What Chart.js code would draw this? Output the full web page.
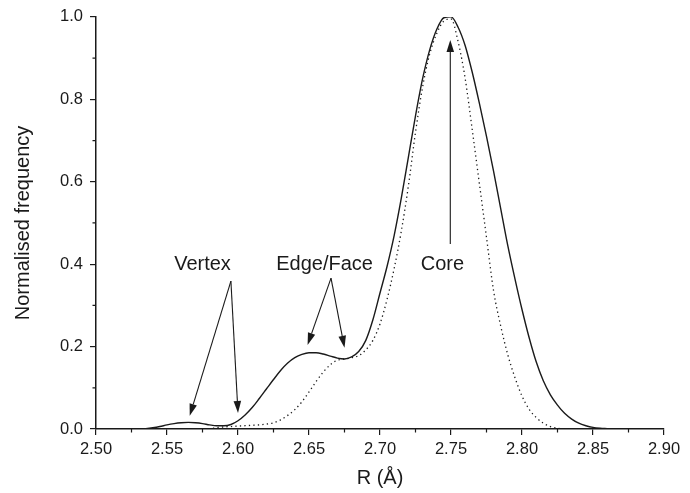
<!DOCTYPE html>
<html>

<head>
    <meta charset="UTF-8">
    <title>Normalised frequency vs R</title>
    <script src="https://cdn.jsdelivr.net/npm/chart.js"></script>
    <style>
        html, body { margin: 0; padding: 0; background: #fff; }
        #wrap { width: 690px; height: 493px; }
    </style>
</head>

<body>
    <div id="wrap">
        <canvas id="chart" width="690" height="493"></canvas>
    </div>
    <script>
        // distances R (Å) and the two normalised distributions
        var rValues = [2.50, 2.52, 2.53, 2.535, 2.54, 2.545, 2.55, 2.555, 2.56, 2.565, 2.57, 2.575, 2.58, 2.585, 2.59, 2.595,
            2.60, 2.605, 2.61, 2.615, 2.62, 2.625, 2.63, 2.635, 2.64, 2.645, 2.65, 2.655, 2.66, 2.665, 2.67, 2.675,
            2.68, 2.685, 2.69, 2.695, 2.70, 2.705, 2.71, 2.715, 2.72, 2.725, 2.73, 2.735, 2.74, 2.745, 2.75, 2.755,
            2.76, 2.765, 2.77, 2.775, 2.78, 2.785, 2.79, 2.795, 2.80, 2.805, 2.81, 2.815, 2.82, 2.825, 2.83, 2.835,
            2.84, 2.845, 2.85, 2.855, 2.86, 2.865, 2.87, 2.88, 2.90];

        // solid line: whole cluster
        var totalFreq = [0, 0, 0, 0.001, 0.003, 0.006, 0.010, 0.013, 0.015, 0.016, 0.015, 0.013, 0.010, 0.008, 0.008, 0.011,
            0.020, 0.034, 0.052, 0.074, 0.097, 0.120, 0.142, 0.160, 0.173, 0.181, 0.185, 0.185, 0.182, 0.177, 0.172, 0.170,
            0.175, 0.188, 0.215, 0.265, 0.330, 0.395, 0.470, 0.560, 0.660, 0.760, 0.850, 0.920, 0.970, 0.998, 1.000, 0.975,
            0.930, 0.865, 0.790, 0.710, 0.625, 0.535, 0.445, 0.365, 0.290, 0.222, 0.163, 0.117, 0.083, 0.058, 0.038, 0.024,
            0.014, 0.008, 0.004, 0.002, 0.001, 0, 0, 0, 0];

        // dotted line: core atoms
        var coreFreq = [0, 0, 0, 0, 0, 0, 0, 0, 0, 0, 0, 0, 0.001, 0.003, 0.005, 0.006,
            0.007, 0.008, 0.009, 0.010, 0.012, 0.015, 0.022, 0.033, 0.047, 0.066, 0.090, 0.115, 0.138, 0.156, 0.167, 0.170,
            0.173, 0.178, 0.192, 0.215, 0.255, 0.315, 0.390, 0.480, 0.590, 0.720, 0.830, 0.910, 0.960, 0.990, 0.995, 0.940,
            0.850, 0.725, 0.595, 0.465, 0.335, 0.250, 0.180, 0.125, 0.080, 0.048, 0.028, 0.014, 0.006, 0.002, 0, 0,
            0, 0, 0, 0, 0, 0, 0, 0, 0];

        var xTickStep = 0.05;
        var yTickStep = 0.2;

        // annotations, in data units
        var noteText = ['Vertex', 'Edge/Face', 'Core'];
        var noteR = [2.575, 2.661, 2.744];
        var noteY = [0.40, 0.40, 0.40];

        var arrowFromR = [2.595, 2.595, 2.6655, 2.6655, 2.7495];
        var arrowFromY = [0.359, 0.359, 0.366, 0.366, 0.449];
        var arrowToR = [2.566, 2.600, 2.649, 2.675, 2.7495];
        var arrowToY = [0.032, 0.039, 0.204, 0.197, 0.944];

        var FONT = 'Liberation Sans, Arial, Helvetica, sans-serif';
        var INK = '#1a1a1a';

        function toPoints(ys) {
            return rValues.map(function (r, i) { return { x: r, y: ys[i] }; });
        }

        // short minor ticks halfway between the labelled ones
        var minorTicks = {
            id: 'minorTicks',
            afterDraw: function (chart) {
                var ctx = chart.ctx, xs = chart.scales.x, ys = chart.scales.y;
                ctx.save();
                ctx.strokeStyle = INK;
                ctx.lineWidth = 1.2;
                ctx.beginPath();
                for (var v = xs.min + xTickStep / 2; v < xs.max; v += xTickStep) {
                    var px = xs.getPixelForValue(v);
                    ctx.moveTo(px, ys.bottom);
                    ctx.lineTo(px, ys.bottom + 3.5);
                }
                for (var w = ys.min + yTickStep / 2; w < ys.max; w += yTickStep) {
                    var py = ys.getPixelForValue(w);
                    ctx.moveTo(xs.left, py);
                    ctx.lineTo(xs.left - 3.5, py);
                }
                ctx.stroke();
                ctx.restore();
            }
        };

        var notes = {
            id: 'notes',
            afterDatasetsDraw: function (chart) {
                var ctx = chart.ctx, xs = chart.scales.x, ys = chart.scales.y;
                ctx.save();
                ctx.fillStyle = INK;
                ctx.strokeStyle = INK;
                ctx.font = '20px ' + FONT;
                ctx.textAlign = 'center';
                ctx.textBaseline = 'middle';
                for (var i = 0; i < noteText.length; i++) {
                    ctx.fillText(noteText[i], xs.getPixelForValue(noteR[i]), ys.getPixelForValue(noteY[i]));
                }
                ctx.lineWidth = 1.1;
                for (var j = 0; j < arrowFromR.length; j++) {
                    var x0 = xs.getPixelForValue(arrowFromR[j]), y0 = ys.getPixelForValue(arrowFromY[j]);
                    var x1 = xs.getPixelForValue(arrowToR[j]), y1 = ys.getPixelForValue(arrowToY[j]);
                    var a = Math.atan2(y1 - y0, x1 - x0);
                    var len = 12, half = 3.8;
                    var bx = x1 - len * Math.cos(a), by = y1 - len * Math.sin(a);
                    ctx.beginPath();
                    ctx.moveTo(x0, y0);
                    ctx.lineTo(bx, by);
                    ctx.stroke();
                    ctx.beginPath();
                    ctx.moveTo(x1, y1);
                    ctx.lineTo(bx + half * Math.sin(a), by - half * Math.cos(a));
                    ctx.lineTo(bx - half * Math.sin(a), by + half * Math.cos(a));
                    ctx.closePath();
                    ctx.fill();
                }
                ctx.restore();
            }
        };

        var ctx = document.getElementById('chart').getContext('2d');
        var chart = new Chart(ctx, {
            type: 'line',
            data: {
                datasets: [
                    {
                        label: 'Total',
                        data: toPoints(totalFreq),
                        borderColor: INK,
                        borderWidth: 1.4,
                        pointRadius: 0,
                        cubicInterpolationMode: 'monotone',
                        fill: false,
                    },
                    {
                        label: 'Core',
                        data: toPoints(coreFreq),
                        borderColor: INK,
                        borderWidth: 1.3,
                        borderDash: [1.3, 3.2],
                        pointRadius: 0,
                        cubicInterpolationMode: 'monotone',
                        fill: false,
                    },
                ],
            },
            options: {
                responsive: false,
                animation: false,
                layout: { padding: { top: 15, right: 26, left: 0, bottom: 0 } },
                plugins: {
                    legend: { display: false },
                    tooltip: { enabled: false },
                },
                scales: {
                    x: {
                        type: 'linear',
                        min: 2.5,
                        max: 2.9,
                        afterFit: function (s) { s.height = 64; },
                        border: { display: true, color: INK, width: 1.5 },
                        grid: { drawOnChartArea: false, drawTicks: true, tickLength: 6, color: INK, lineWidth: 1.2 },
                        ticks: {
                            stepSize: xTickStep,
                            padding: 5,
                            color: INK,
                            font: { family: FONT, size: 16.5 },
                            maxRotation: 0,
                            callback: function (v) { return v.toFixed(2); },
                        },
                        title: {
                            display: true,
                            text: 'R (Å)',
                            color: INK,
                            font: { family: FONT, size: 20 },
                            padding: { top: 0, bottom: 3 },
                        },
                    },
                    y: {
                        min: 0,
                        max: 1,
                        afterFit: function (s) { s.width = 96; },
                        border: { display: true, color: INK, width: 1.5 },
                        grid: { drawOnChartArea: false, drawTicks: true, tickLength: 6, color: INK, lineWidth: 1.2 },
                        ticks: {
                            stepSize: yTickStep,
                            padding: 7,
                            color: INK,
                            font: { family: FONT, size: 16.5 },
                            callback: function (v) { return v.toFixed(1); },
                        },
                        title: {
                            display: true,
                            text: 'Normalised frequency',
                            color: INK,
                            font: { family: FONT, size: 20 },
                            padding: { top: 11, bottom: 0 },
                        },
                    },
                },
            },
            plugins: [minorTicks, notes],
        });
    </script>
</body>

</html>
